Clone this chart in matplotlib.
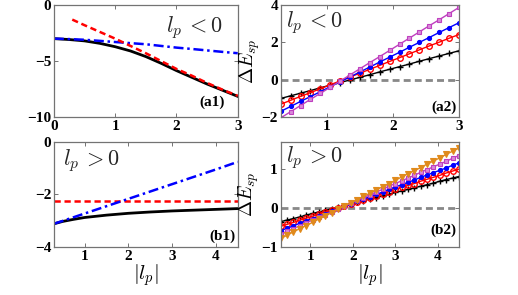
import numpy as np
import matplotlib
matplotlib.use("Agg")
import matplotlib.pyplot as plt

plt.rcParams["mathtext.fontset"] = "cm"
plt.rcParams["font.family"] = "Liberation Serif"

# (a1) l_p < 0 : energies vs |l_p|
a1_x = [0.0, 0.25, 0.5, 0.75, 1.0, 1.25, 1.5, 1.75, 2.0, 2.25, 2.5, 2.75, 3.0]
a1_black = [-3.0, -3.08, -3.2, -3.42, -3.72, -4.1, -4.6, -5.2, -5.85, -6.45, -7.05, -7.6, -8.15]
a1_red_x = [0.3, 0.5, 0.75, 1.0, 1.25, 1.5, 1.75, 2.0, 2.25, 2.5, 2.75, 3.0]
a1_red = [-1.3, -1.8, -2.4, -3.0, -3.65, -4.3, -5.0, -5.7, -6.3, -6.95, -7.55, -8.1]
a1_blue = [-3.0, -3.04, -3.1, -3.2, -3.3, -3.4, -3.5, -3.65, -3.8, -3.92, -4.05, -4.18, -4.3]

# (b1) l_p > 0
b1_x = [0.3, 0.5, 0.75, 1.0, 1.5, 2.0, 2.5, 3.0, 3.5, 4.0, 4.5]
b1_black = [-3.12, -3.03, -2.95, -2.88, -2.79, -2.72, -2.67, -2.63, -2.6, -2.57, -2.54]
b1_red = [-2.27] * 11
b1_blue = [-3.12, -3.01, -2.87, -2.73, -2.45, -2.17, -1.89, -1.61, -1.33, -1.05, -0.76]

# (a2) Delta E_sp, l_p < 0
a2_x = [0.3, 0.45, 0.6, 0.75, 0.9, 1.05, 1.2, 1.35, 1.5, 1.65, 1.8, 1.95, 2.1, 2.25,
        2.4, 2.55, 2.7, 2.85, 3.0]
a2_black = [-1.00, -0.86, -0.72, -0.58, -0.43, -0.29, -0.15, -0.01, 0.13, 0.27, 0.42,
            0.56, 0.70, 0.84, 0.99, 1.13, 1.27, 1.41, 1.55]
a2_red = [-1.31, -1.10, -0.89, -0.69, -0.48, -0.27, -0.06, 0.15, 0.35, 0.56, 0.77,
          0.98, 1.18, 1.39, 1.60, 1.81, 2.01, 2.22, 2.42]
a2_blue = [-1.69, -1.43, -1.16, -0.90, -0.64, -0.37, -0.11, 0.15, 0.42, 0.68, 0.95,
           1.21, 1.47, 1.74, 2.00, 2.26, 2.53, 2.79, 3.05]
a2_mag = [-2.04, -1.71, -1.38, -1.05, -0.73, -0.40, -0.07, 0.26, 0.59, 0.92, 1.24,
          1.57, 1.90, 2.23, 2.56, 2.89, 3.21, 3.54, 3.87]

# (b2) Delta E_sp, l_p > 0
b2_x = [0.3, 0.45, 0.6, 0.75, 0.9, 1.05, 1.2, 1.35, 1.5, 1.65, 1.8, 1.95, 2.1, 2.25,
        2.4, 2.55, 2.7, 2.85, 3.0, 3.15, 3.3, 3.45, 3.6, 3.75, 3.9, 4.05, 4.2, 4.35, 4.5]
b2_black = [-0.35, -0.31, -0.27, -0.23, -0.18, -0.14, -0.10, -0.06, -0.02, 0.02, 0.06,
            0.11, 0.15, 0.19, 0.23, 0.27, 0.31, 0.35, 0.40, 0.44, 0.48, 0.52, 0.56,
            0.60, 0.64, 0.69, 0.73, 0.77, 0.81]
b2_red = [-0.47, -0.42, -0.37, -0.31, -0.26, -0.21, -0.16, -0.10, -0.05, 0.00, 0.06,
          0.11, 0.16, 0.21, 0.27, 0.32, 0.37, 0.42, 0.48, 0.53, 0.58, 0.63, 0.69,
          0.74, 0.79, 0.84, 0.90, 0.95, 1.00]
b2_blue = [-0.58, -0.52, -0.46, -0.39, -0.33, -0.27, -0.21, -0.15, -0.08, -0.02, 0.04,
           0.10, 0.17, 0.23, 0.29, 0.35, 0.41, 0.48, 0.54, 0.60, 0.66, 0.72, 0.79,
           0.85, 0.91, 0.97, 1.03, 1.10, 1.16]
b2_mag = [-0.67, -0.60, -0.53, -0.45, -0.38, -0.31, -0.24, -0.17, -0.09, -0.02, 0.05,
          0.12, 0.20, 0.27, 0.34, 0.41, 0.48, 0.56, 0.63, 0.70, 0.77, 0.84, 0.92,
          0.99, 1.06, 1.13, 1.20, 1.28, 1.35]
b2_orange = [-0.78, -0.70, -0.61, -0.53, -0.45, -0.37, -0.28, -0.20, -0.12, -0.03, 0.05,
             0.13, 0.21, 0.30, 0.38, 0.46, 0.55, 0.63, 0.71, 0.80, 0.88, 0.96, 1.04,
             1.13, 1.21, 1.29, 1.38, 1.46, 1.54]

MAG = "#bf3fbf"
ORANGE = "#e08a1c"
GRAY = "#888888"
tickfont = dict(family="Liberation Serif", weight="bold", size=11)


def style_axes(ax):
    for s in ax.spines.values():
        s.set_color("0.45")
        s.set_linewidth(0.9)
    ax.tick_params(direction="in", top=True, right=True, length=3, width=0.7,
                   color="0.45", pad=2)
    for lab in ax.get_xticklabels() + ax.get_yticklabels():
        lab.set_fontfamily("Liberation Serif")
        lab.set_fontweight("bold")
        lab.set_fontsize(11)


fig = plt.figure(figsize=(5.18, 2.95), dpi=100)
ax_a1 = fig.add_axes([0.104, 0.603, 0.355, 0.380])
ax_a2 = fig.add_axes([0.542, 0.603, 0.344, 0.380])
ax_b1 = fig.add_axes([0.104, 0.163, 0.355, 0.356])
ax_b2 = fig.add_axes([0.542, 0.163, 0.344, 0.356])

dashdot = (0, (4, 1.5, 1, 1.5))
dashed = (0, (2.5, 1.5))

# a1
ax_a1.plot(a1_x, a1_black, color="black", lw=2)
ax_a1.plot(a1_x, a1_blue, color="blue", lw=1.8, ls=dashdot)
ax_a1.plot(a1_red_x, a1_red, color="red", lw=1.8, ls=dashed)
ax_a1.set_xlim(0, 3)
ax_a1.set_ylim(-10, 0)
ax_a1.set_xticks([0, 1, 2, 3])
ax_a1.set_yticks([-10, -5, 0])
ax_a1.text(0.61, 0.8, r"$l_p\,<0$", transform=ax_a1.transAxes, fontsize=16,
           va="center", ha="left", color="0.15")
ax_a1.text(0.93, 0.13, "(a1)", transform=ax_a1.transAxes, ha="right", va="center",
           **tickfont)

# b1
ax_b1.plot(b1_x, b1_black, color="black", lw=2)
ax_b1.plot(b1_x, b1_red, color="red", lw=1.8, ls=dashed)
ax_b1.plot(b1_x, b1_blue, color="blue", lw=1.8, ls=dashdot)
ax_b1.set_xlim(0.3, 4.5)
ax_b1.set_ylim(-4, 0)
ax_b1.set_xticks([1, 2, 3, 4])
ax_b1.set_yticks([-4, -2, 0])
ax_b1.text(0.05, 0.82, r"$l_p\,>0$", transform=ax_b1.transAxes, fontsize=16,
           va="center", ha="left", color="0.15")
ax_b1.text(0.985, 0.1, "(b1)", transform=ax_b1.transAxes, ha="right", va="center",
           **tickfont)
ax_b1.set_xlabel(r"$|l_p|$", fontsize=15, labelpad=0)

# a2
ax_a2.axhline(0, color=GRAY, lw=2, ls=dashed)
ax_a2.plot(a2_x, a2_black, color="black", lw=1, marker="+", ms=4.5, mew=1)
ax_a2.plot(a2_x, a2_red, color="red", lw=1, marker="o", ms=4, mfc="none", mew=1)
ax_a2.plot(a2_x, a2_blue, color="blue", lw=1, marker=".", ms=5.5)
ax_a2.plot(a2_x, a2_mag, color=MAG, lw=1, marker="s", ms=3.2, mfc="#d98ad9", mew=0.8)
ax_a2.set_xlim(0.3, 3)
ax_a2.set_ylim(-2, 4)
ax_a2.set_xticks([1, 2, 3])
ax_a2.set_yticks([-2, 0, 2, 4])
ax_a2.text(0.03, 0.84, r"$l_p\,<0$", transform=ax_a2.transAxes, fontsize=16,
           va="center", ha="left", color="0.15")
ax_a2.text(0.985, 0.09, "(a2)", transform=ax_a2.transAxes, ha="right", va="center",
           **tickfont)
ax_a2.set_ylabel(r"$\Delta E_{sp}$", fontsize=14, labelpad=0)

# b2
ax_b2.axhline(0, color=GRAY, lw=2, ls=dashed)
ax_b2.plot(b2_x, b2_black, color="black", lw=1, marker="+", ms=4.5, mew=1)
ax_b2.plot(b2_x, b2_red, color="red", lw=1, marker="o", ms=4, mfc="none", mew=1)
ax_b2.plot(b2_x, b2_blue, color="blue", lw=1, marker=".", ms=5.5)
ax_b2.plot(b2_x, b2_mag, color=MAG, lw=1, marker="s", ms=3.2, mfc="#d98ad9", mew=0.8)
ax_b2.plot(b2_x, b2_orange, color=ORANGE, lw=1, marker="v", ms=5, mfc=ORANGE, mew=0.8)
ax_b2.set_xlim(0.3, 4.5)
ax_b2.set_ylim(-1, 1.7)
ax_b2.set_xticks([1, 2, 3, 4])
ax_b2.set_yticks([-1, 0, 1])
ax_b2.text(0.03, 0.855, r"$l_p\,>0$", transform=ax_b2.transAxes, fontsize=16,
           va="center", ha="left", color="0.15")
ax_b2.text(0.985, 0.16, "(b2)", transform=ax_b2.transAxes, ha="right", va="center",
           **tickfont)
ax_b2.set_ylabel(r"$\Delta E_{sp}$", fontsize=14, labelpad=0)
ax_b2.set_xlabel(r"$|l_p|$", fontsize=15, labelpad=0)

for ax in (ax_a1, ax_a2, ax_b1, ax_b2):
    style_axes(ax)

fig.savefig("out.png", dpi=100)
